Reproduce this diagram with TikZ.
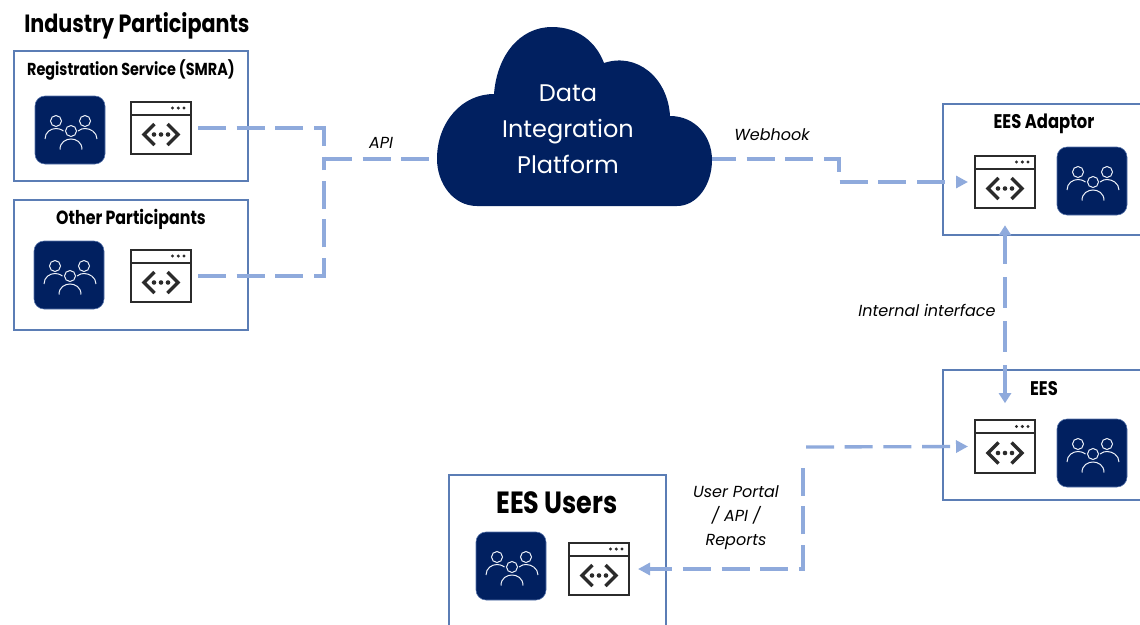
\documentclass[tikz,border=0pt]{standalone}
\usepackage{fontspec}
\setmainfont{Poppins}
\newfontfamily\condfont{Poppins}[FakeStretch=0.83]
\definecolor{navy}{HTML}{012060}
\definecolor{boxline}{HTML}{5B7DB5}
\definecolor{link}{HTML}{8FAADC}
\definecolor{iconline}{HTML}{2B2B2B}
\usetikzlibrary{arrows.meta,calc}
\tikzset{
  panel/.style={draw=boxline,line width=1.1pt,fill=white},
  usersbox/.style={draw=link!60!navy,line width=.4pt,fill=navy,rounded corners=7.5pt,minimum width=52.5pt,minimum height=51pt,inner sep=0pt},
  apibox/.style={draw=iconline,line width=1.5pt,fill=white,minimum width=45pt,minimum height=39.5pt,inner sep=0pt},
  link line/.style={draw=link,line width=2.5pt},
  dash link/.style={link line,dash pattern=on 21pt off 8pt},
  tip/.style={-{Triangle[length=9pt,width=9pt]}},
  tipstart/.style={{Triangle[length=9pt,width=9pt]}-},
  tipboth/.style={{Triangle[length=7.5pt,width=9pt]}-{Triangle[length=7.5pt,width=9pt]}},
  heading/.style={font=\condfont\bfseries\fontsize{18.7}{22}\selectfont,inner sep=0pt},
  title/.style={font=\condfont\bfseries\fontsize{#1}{16}\selectfont,inner sep=0pt},
  tag/.style={font=\itshape\fontsize{12}{18}\selectfont,inner sep=0pt,align=center},
  cloudtext/.style={font=\fontsize{18}{27}\selectfont,text=white,align=center,inner sep=0pt}
}
\newcommand{\usersicon}[3]{%
  \node[usersbox] (#1) at (#2,#3) {};
  \begin{scope}[shift={(#1.center)},draw=white!85!link,line width=.75pt]
    \foreach \cx/\cy in {-14/-9,15/-9,1/1}{
      \draw (\cx,\cy) circle[radius=5.5];
    }
    \draw (-25,9) .. controls (-25,2) and (-19,-1.5) .. (-14,-1.5) .. controls (-12,-1.5) and (-9.5,-1) .. (-6.5,1);
    \draw (27,9) .. controls (27,2) and (20,-1.5) .. (15,-1.5) .. controls (13,-1.5) and (10.5,-1) .. (8,1);
    \draw (-10,19.5) .. controls (-10,12) and (-4,9) .. (1,9) .. controls (6,9) and (12,12) .. (12,19.5);
  \end{scope}}
\newcommand{\apiicon}[3]{%
  \node[apibox] (#1) at (#2,#3) {};
  \begin{scope}[shift={(#1.center)},iconline]
    \draw[line width=1.5pt] (-30,-13.5) -- (30,-13.5);
    \foreach \dx in {11.5,17.3,23}{\fill (\dx,-20) circle[radius=1.7];}
    \foreach \dx in {-7,0,7}{\fill (\dx,6.5) circle[radius=2.3];}
    \draw[line width=2.5pt] (-6.5,-4) -- (-17,6.5) -- (-6.5,17);
    \draw[line width=2.5pt] (6.5,-4) -- (17,6.5) -- (6.5,17);
  \end{scope}}
\begin{document}
\begin{tikzpicture}[x=.75pt,y=-.75pt]
\useasboundingbox (0,0) rectangle (1140,625);
% panels
\path[panel] (14,51) rectangle (248,181);
\path[panel] (14,200) rectangle (248,330);
\path[panel] (943,104) rectangle (1142,235);
\path[panel] (943,370) rectangle (1142,500);
\path[panel] (449,475) rectangle (666,627);
% cloud
\coordinate (cloudwest) at (437,159);
\coordinate (cloudeast) at (712,159);
\fill[navy] (477,206) .. controls (453,206) and (437,183) .. (437,159)
  .. controls (437,122) and (462,94) .. (494,94)
  .. controls (497,55) and (520,27) .. (552,27)
  .. controls (578,27) and (596,42) .. (604,63)
  .. controls (637,52) and (668,78) .. (670,116)
  .. controls (695,116) and (712,136) .. (712,160)
  .. controls (712,185) and (697,206) .. (677,206) -- cycle;
\node[cloudtext] (cloudlabel) at (568,129) {Data\\Integration\\Platform};
% titles
\node[heading,anchor=west] (t0) at (24,26) {Industry Participants};
\node[title=13] (t1) at (131,70) {Registration Service (SMRA)};
\node[title=14.3] (t2) at (131,219) {Other Participants};
\node[title=14.8] (t3) at (1044,124) {EES Adaptor};
\node[title=14.8] (t4) at (1044,389) {EES};
\node[heading,font=\condfont\bfseries\fontsize{23}{26}\selectfont] (t5) at (557,503) {EES Users};
% icons
\usersicon{u1}{70}{130}
\apiicon{a1}{161}{128}
\usersicon{u2}{69}{275}
\apiicon{a2}{161}{276}
\apiicon{a3}{1005}{182}
\usersicon{u3}{1092}{181}
\apiicon{a4}{1005}{446.5}
\usersicon{u4}{1092}{453}
\usersicon{u5}{511}{566}
\apiicon{a5}{599}{569}
% connectors
\coordinate (j) at (324,159);
\coordinate (k) at (803,447);
\path[dash link] ($(a1.east)+(6,0)$) -- (a1.east -| j) -- (j);
\path[dash link] ($(a2.east)+(6,0)$) -- (a2.east -| j) -- (j);
\path[dash link] (j) -- (cloudwest);
\path[dash link,dash phase=3pt,tip] (cloudeast) -- (839,159) -- (839,182) -- ($(a3.west)+(-6,0)$);
\path[link line,dash pattern=on 23pt off 10pt,dash phase=1pt,tipboth] ($(a3.south)+(0,16)$) -- ($(a4.north)+(0,-16)$);
\path[dash link,tip] ($(k)+(3,0)$) -- ($(a4.west)+(-6,0)$);
\path[dash link,dash phase=3.75pt,tipstart] ($(a5.east)+(8,0)$) -- (a5.east -| k) -- ($(k)+(0,12)$);
% labels
\node[tag] (l1) at (381,143) {API};
\node[tag] (l2) at (772,135) {Webhook};
\node[tag] (l3) at (927,310) {Internal interface};
\node[tag] (l4) at (736,518) {User Portal\\/ API /\\Reports};
\end{tikzpicture}
\end{document}
